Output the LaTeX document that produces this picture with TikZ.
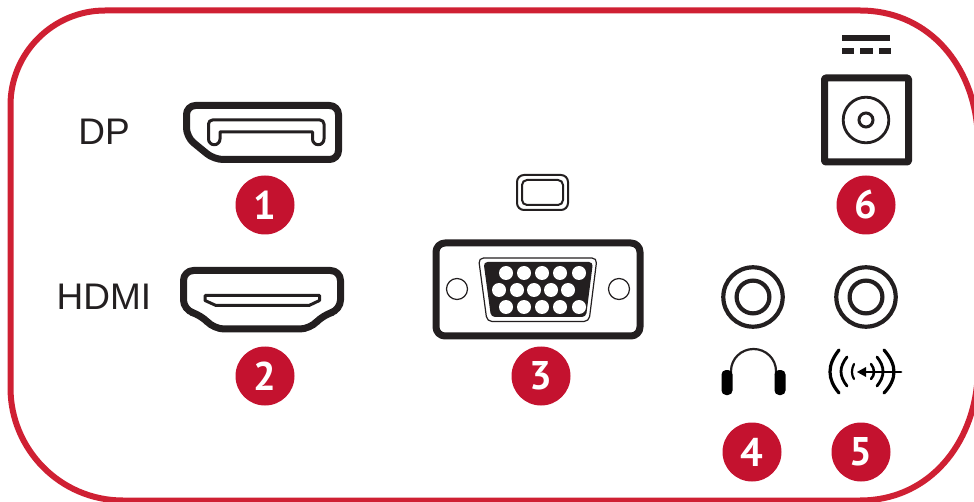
\documentclass[tikz,border=0pt]{standalone}
\usepackage{fontspec}
\setmainfont{Liberation Sans}
\newfontfamily\badgefont{PT Sans}[BoldFont={PT Sans Bold}]
\usepackage{xcolor}
\usetikzlibrary{positioning}
\definecolor{portred}{HTML}{C4122F}
\definecolor{framered}{HTML}{CF2033}
\definecolor{portink}{HTML}{231F20}

\begin{document}
\begin{tikzpicture}[
    x=1pt, y=-1pt,
    badge/.style={
      circle, fill=portred, text=white, inner sep=0pt,
      minimum size=59pt, font=\fontsize{40}{40}\selectfont\badgefont\bfseries
    },
    caption/.style={font=\fontsize{37}{37}\selectfont, text=portink, inner sep=0pt},
    outline/.style={draw=portink, line width=7pt, line join=round},
    thinline/.style={draw=portink, line width=3pt, line join=round},
    hole/.style={draw=portink, line width=1.2pt, fill=white},
    pin/.style={fill=white, draw=none},
    jack/.style={draw=portink, line width=4.2pt},
    wave/.style={draw=black, line cap=round}
  ]
  \useasboundingbox (0,0) rectangle (974,502);
  \clip (0,0) rectangle (974,502);

  % Frame
  \draw[framered, line width=6pt] (10.5,105)
    .. controls (10.5,53) and (53,10.5) .. (105,10.5) -- (860,10.5)
    .. controls (925,10.5) and (970,60) .. (977,125) -- (977,385)
    .. controls (970,450) and (925,500.5) .. (860,500.5) -- (123,500.5)
    .. controls (60,500.5) and (10.5,449) .. (10.5,388) -- cycle;

  % DP
  \node[caption] (dplabel) at (104,132) {DP};
  \draw[outline, rounded corners=9pt] (186.5,105.5) -- (338.5,105.5) -- (338.5,159.5) -- (214,159.5) -- (186.5,137) -- cycle;
  \draw[thinline, rounded corners=4pt] (208.5,139) -- (208.5,120) -- (324,120) -- (324,139);
  \draw[thinline] (208.5,139) arc[start angle=180, end angle=360, radius=5.75pt] -- (220,132) -- (312.5,132) -- (312.5,139)
    arc[start angle=180, end angle=360, radius=5.75pt];
  \node[badge] (badge1) at (265,205) {1};

  % HDMI
  \node[caption] (hdmilabel) at (104,297) {HDMI};
  \draw[outline, rounded corners=10pt] (183.5,270.5) -- (340.5,270.5) -- (340.5,310) -- (323,315) -- (310,329) -- (214,329) -- (201,315) -- (183.5,310) -- cycle;
  \draw[thinline] (205,295.5) -- (319.5,295.5) -- (319.5,300.5) -- (309,305.5) -- (216,305.5) -- (205,300.5) -- cycle;
  \node[badge] (badge2) at (265,376) {2};

  % VGA
  \draw[draw=portink, line width=2pt, rounded corners=7pt] (517,175) rectangle (568,210);
  \draw[draw=portink, line width=2pt, rounded corners=5pt] (522,180) rectangle (563,205);
  \draw[outline, rounded corners=9pt] (436,243) rectangle (640,336);
  \draw[draw=portink, line width=1.2pt, rounded corners=5pt] (478.5,258) -- (597,258) -- (589,321.5) -- (487,321.5) -- cycle;
  \fill[portink, rounded corners=4pt] (483.5,262) -- (593,262) -- (586,317) -- (491,317) -- cycle;
  \foreach \px in {506,524,542,560,579} {
    \fill[pin] (\px,273) circle (7pt);
    \fill[pin] (\px,307) circle (7pt);
  }
  \foreach \px in {499,517,534,551,568} {
    \fill[pin] (\px,290) circle (7pt);
  }
  \draw[hole] (457,289) circle (10.5pt);
  \draw[hole] (619,289) circle (10.5pt);
  \node[badge] (badge3) at (541,376) {3};

  % Audio out
  \draw[jack] (753,297) circle (29.7pt);
  \draw[jack] (753,297) circle (16.4pt);
  \draw[portink, line width=2.2pt] (731,375) -- (731,371) arc[start angle=180, end angle=0, x radius=22.5pt, y radius=22pt] -- (776,375);
  \fill[black, rounded corners=4.5pt] (721.5,370) rectangle (732.5,395);
  \fill[black, rounded corners=4.5pt] (774.5,370) rectangle (785.5,395);
  \node[badge] (badge4) at (752,452) {4};

  % Audio in
  \draw[jack] (866,297) circle (29.7pt);
  \draw[jack] (866,297) circle (16.4pt);
  \draw[wave, line width=3.2pt] (839,350) .. controls (827,365) and (827,379) .. (839,393);
  \draw[wave, line width=2.8pt] (847,357) .. controls (839,367) and (839,376) .. (847,386);
  \draw[wave, line width=2.2pt] (854,364) .. controls (851.3,369) and (851.3,375) .. (854,379);
  \draw[wave, line width=3.2pt] (884,350) .. controls (897.3,365) and (897.3,379) .. (884,393);
  \draw[wave, line width=2.8pt] (877,357) .. controls (885,367) and (885,376) .. (877,386);
  \draw[wave, line width=2.5pt] (871,364) .. controls (875,369) and (875,375) .. (871,379);
  \draw[wave, line width=2.8pt] (862,372) -- (901,372);
  \fill[black] (857,372) -- (866,367) -- (866,377) -- cycle;
  \node[badge] (badge5) at (861,452) {5};

  % DC in
  \fill[portink] (842,35) rectangle (890,41);
  \fill[portink] (842,48) rectangle (854,54);
  \fill[portink] (860,48) rectangle (873,54);
  \fill[portink] (879,48) rectangle (891,54);
  \draw[outline, rounded corners=1pt] (824.5,78) rectangle (908.5,162);
  \draw[portink, line width=2.8pt] (866,120) circle (22.8pt);
  \draw[portink, line width=3pt] (866,120) circle (7pt);
  \node[badge] (badge6) at (866,205) {6};
\end{tikzpicture}
\end{document}
